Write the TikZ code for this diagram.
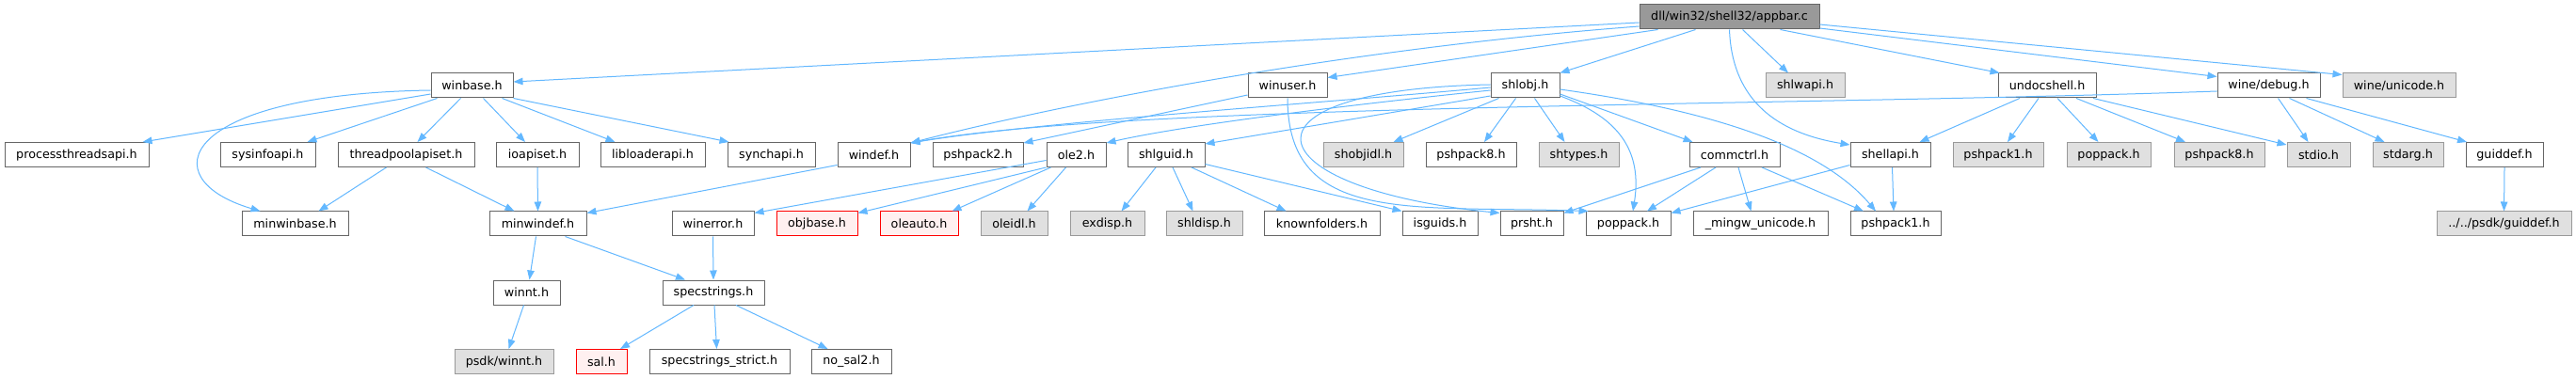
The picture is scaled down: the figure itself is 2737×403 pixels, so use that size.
\documentclass[tikz,border=0pt]{standalone}
\usepackage{fontspec}
\setmainfont{DejaVu Sans}
\usetikzlibrary{arrows.meta}
\definecolor{edgecol}{HTML}{63B8FF}
\definecolor{nodeborder}{HTML}{666666}
\definecolor{extfill}{HTML}{E0E0E0}
\definecolor{extborder}{HTML}{999999}
\definecolor{rootfill}{HTML}{999999}
\definecolor{badfill}{HTML}{FFF0F0}
\definecolor{badborder}{HTML}{FF0000}
\newcommand{\nfs}{\fontsize{12.7}{15}\selectfont}
\begin{document}
\begin{tikzpicture}[x=1pt,y=1pt,
  nb/.style={draw=nodeborder, fill=white, line width=1pt, minimum height=26pt, inner sep=0pt, font=\nfs, anchor=center},
  ext/.style={nb, fill=extfill, draw=extborder},
  bad/.style={nb, fill=badfill, draw=badborder},
  rootnode/.style={nb, fill=rootfill},
  dep/.style={-{Triangle[length=10pt,width=7.5pt]}, draw=edgecol, line width=1pt}]
\useasboundingbox[fill=white] (0,0) rectangle (2737,-403);
% row 0
\node[rootnode, minimum width=191pt] (appbar) at (1837.5,-18) {dll/win32/shell32/appbar.c};
% row 1
\node[nb, minimum width=87pt] (winbase) at (501.5,-91) {winbase.h};
\node[nb, minimum width=84pt] (winuser) at (1368,-91) {winuser.h};
\node[nb, minimum width=73pt] (shlobj) at (1620.5,-91) {shlobj.h};
\node[ext, minimum width=84pt] (shlwapi) at (1918,-91) {shlwapi.h};
\node[nb, minimum width=104pt] (undocshell) at (2175,-91) {undocshell.h};
\node[nb, minimum width=109pt] (winedebug) at (2410.5,-91) {wine/debug.h};
\node[ext, minimum width=120pt] (wineunicode) at (2549,-91) {wine/unicode.h};
% row 2
\node[nb, minimum width=153pt] (processthreadsapi) at (81.5,-164.5) {processthreadsapi.h};
\node[nb, minimum width=101pt] (sysinfoapi) at (284.5,-164.5) {sysinfoapi.h};
\node[nb, minimum width=145pt] (threadpoolapiset) at (431.5,-164.5) {threadpoolapiset.h};
\node[nb, minimum width=88pt] (ioapiset) at (571,-164.5) {ioapiset.h};
\node[nb, minimum width=111pt] (libloaderapi) at (693.5,-164.5) {libloaderapi.h};
\node[nb, minimum width=93pt] (synchapi) at (819.5,-164.5) {synchapi.h};
\node[nb, minimum width=77pt] (windef) at (928.5,-164.5) {windef.h};
\node[nb, minimum width=96pt] (pshpack2) at (1039,-164.5) {pshpack2.h};
\node[nb, minimum width=63pt] (ole2) at (1143.5,-164.5) {ole2.h};
\node[nb, minimum width=82pt] (shlguid) at (1239,-164.5) {shlguid.h};
\node[ext, minimum width=85pt] (shobjidl) at (1448.5,-164.5) {shobjidl.h};
\node[nb, minimum width=96pt] (pshpack8) at (1563,-164.5) {pshpack8.h};
\node[ext, minimum width=85pt] (shtypes) at (1677.5,-164.5) {shtypes.h};
\node[nb, minimum width=96pt] (commctrl) at (1843,-164.5) {commctrl.h};
\node[nb, minimum width=85pt] (shellapi) at (2008.5,-164.5) {shellapi.h};
\node[ext, minimum width=96pt] (pshpackoneG) at (2123,-164.5) {pshpack1.h};
\node[ext, minimum width=89pt] (poppackG) at (2240.5,-164.5) {poppack.h};
\node[ext, minimum width=96pt] (pshpackeightG) at (2358,-164.5) {pshpack8.h};
\node[ext, minimum width=67pt] (stdio) at (2463.5,-164.5) {stdio.h};
\node[ext, minimum width=75pt] (stdarg) at (2558.5,-164.5) {stdarg.h};
\node[nb, minimum width=82pt] (guiddef) at (2661,-164.5) {guiddef.h};
% row 3
\node[nb, minimum width=113pt] (minwinbase) at (313.5,-238) {minwinbase.h};
\node[nb, minimum width=103pt] (minwindef) at (571.5,-238) {minwindef.h};
\node[nb, minimum width=87pt] (winerror) at (757.5,-238) {winerror.h};
\node[bad, minimum width=86pt] (objbase) at (868,-238) {objbase.h};
\node[bad, minimum width=83pt] (oleauto) at (976.5,-238) {oleauto.h};
\node[ext, minimum width=71pt] (oleidl) at (1077.5,-238) {oleidl.h};
\node[ext, minimum width=79pt] (exdisp) at (1176.5,-238) {exdisp.h};
\node[ext, minimum width=81pt] (shldisp) at (1279.5,-238) {shldisp.h};
\node[nb, minimum width=123pt] (knownfolders) at (1404.5,-238) {knownfolders.h};
\node[nb, minimum width=80pt] (isguids) at (1530,-238) {isguids.h};
\node[nb, minimum width=67pt] (prsht) at (1627.5,-238) {prsht.h};
\node[nb, minimum width=90pt] (poppack) at (1730,-238) {poppack.h};
\node[nb, minimum width=143pt] (mingw) at (1870.5,-238) {\_mingw\_unicode.h};
\node[nb, minimum width=96pt] (pshpackone) at (2014,-238) {pshpack1.h};
\node[ext, minimum width=143pt] (psdkguiddef) at (2660.5,-238) {../../psdk/guiddef.h};
% row 4
\node[nb, minimum width=71pt] (winnt) at (559.5,-311) {winnt.h};
\node[nb, minimum width=108pt] (specstrings) at (758,-311) {specstrings.h};
% row 5
\node[ext, minimum width=105pt] (psdkwinnt) at (535.5,-384.5) {psdk/winnt.h};
\node[bad, minimum width=54pt] (sal) at (639,-384.5) {sal.h};
\node[nb, minimum width=149pt] (specstrict) at (764.5,-384.5) {specstrings\_strict.h};
\node[nb, minimum width=85pt] (nosal) at (904.5,-384.5) {no\_sal2.h};

% edges from appbar.c
\draw[dep] ([yshift=-6pt]appbar.west) -- ([yshift=4pt]winbase.east);
\draw[dep] ([yshift=-10pt]appbar.west) .. controls (1450,-50) and (1150,-105) .. ([yshift=-1pt]windef.north east);
\draw[dep] ([xshift=-76pt]appbar.south) -- ([yshift=-5pt]winuser.north east);
\draw[dep] ([xshift=-36pt]appbar.south) -- (shlobj.north east);
\draw[dep] (appbar.south) .. controls (1840,-100) and (1880,-140) .. ([yshift=-3pt]shellapi.north west);
\draw[dep] ([xshift=14pt]appbar.south) -- ([xshift=-18pt]shlwapi.north);
\draw[dep] ([xshift=54pt]appbar.south) -- ([xshift=2pt]undocshell.north west);
\draw[dep] ([yshift=-12pt]appbar.east) -- ([yshift=-4pt]winedebug.north west);
\draw[dep] ([yshift=-8pt]appbar.east) -- ([yshift=-2pt]wineunicode.north west);
% winbase.h
\draw[dep] ([yshift=-9pt]winbase.west) -- ([xshift=70pt]processthreadsapi.north);
\draw[dep] ([yshift=-5pt]winbase.west) .. controls (190,-100) and (160,-190) .. ([xshift=-37pt]minwinbase.north);
\draw[dep] ([xshift=-37pt]winbase.south) -- ([xshift=42pt]sysinfoapi.north);
\draw[dep] ([xshift=-12pt]winbase.south) -- ([xshift=12pt]threadpoolapiset.north);
\draw[dep] ([xshift=12pt]winbase.south) -- ([xshift=-13pt]ioapiset.north);
\draw[dep] ([xshift=32pt]winbase.south) -- ([xshift=-40pt]libloaderapi.north);
\draw[dep] (winbase.south east) -- ([xshift=2pt]synchapi.north west);
% lower left part
\draw[dep] ([xshift=-21pt]threadpoolapiset.south) -- ([xshift=25pt]minwinbase.north);
\draw[dep] ([xshift=21pt]threadpoolapiset.south) -- ([xshift=-25pt]minwindef.north);
\draw[dep] (ioapiset.south) -- (minwindef.north);
\draw[dep] ([yshift=-11pt]windef.west) -- ([yshift=-2pt]minwindef.north east);
\draw[dep] ([xshift=-2pt]minwindef.south) -- ([xshift=3pt]winnt.north);
\draw[dep] ([xshift=29pt]minwindef.south) -- ([xshift=-30pt]specstrings.north);
\draw[dep] ([xshift=-3pt]winnt.south) -- ([xshift=5pt]psdkwinnt.north);
\draw[dep] ([xshift=-21pt]specstrings.south) -- ([xshift=20pt]sal.north);
\draw[dep] ([xshift=1pt]specstrings.south) -- ([xshift=-3pt]specstrict.north);
\draw[dep] ([xshift=24pt]specstrings.south) -- ([xshift=-25pt]nosal.north);
\draw[dep] (winerror.south) -- (specstrings.north);
% ole2.h
\draw[dep] ([yshift=-6pt]ole2.west) -- ([yshift=-2pt]winerror.north east);
\draw[dep] (ole2.south west) -- ([yshift=-2pt]objbase.north east);
\draw[dep] ([xshift=-27pt]ole2.south) -- ([xshift=35pt]oleauto.north);
\draw[dep] ([xshift=-11pt]ole2.south) -- ([xshift=14pt]oleidl.north);
% shlguid.h
\draw[dep] ([xshift=-11pt]shlguid.south) -- ([xshift=15pt]exdisp.north);
\draw[dep] ([xshift=7pt]shlguid.south) -- ([xshift=-12pt]shldisp.north);
\draw[dep] ([xshift=27pt]shlguid.south) -- ([xshift=-38pt]knownfolders.north);
\draw[dep] ([yshift=-10pt]shlguid.east) -- (isguids.north west);
% winuser.h
\draw[dep] ([yshift=-10pt]winuser.west) -- ([yshift=-1pt]pshpack2.north east);
\draw[dep] (winuser.south) .. controls (1368,-240) and (1500,-218) .. ([xshift=3pt]poppack.north west);
% shlobj.h
\draw[dep] ([yshift=-2pt]shlobj.west) .. controls (1400,-110) and (1100,-130) .. ([yshift=-1pt]windef.north east);
\draw[dep] ([yshift=-5pt]shlobj.west) .. controls (1400,-115) and (1250,-135) .. ([yshift=-1pt]ole2.north east);
\draw[dep] ([yshift=-11pt]shlobj.west) -- ([yshift=-2pt]shlguid.north east);
\draw[dep] ([yshift=1pt]shlobj.west) .. controls (1300,-95) and (1330,-200) .. ([yshift=-2pt]prsht.north west);
\draw[dep] ([xshift=9pt]shlobj.south west) -- ([xshift=-11pt]shobjidl.north east);
\draw[dep] ([xshift=-10pt]shlobj.south) -- ([xshift=14pt]pshpack8.north);
\draw[dep] ([xshift=10pt]shlobj.south) -- ([xshift=-15pt]shtypes.north);
\draw[dep] ([yshift=-11pt]shlobj.east) .. controls (1720,-125) and (1745,-160) .. ([xshift=5pt]poppack.north);
\draw[dep] ([yshift=-9pt]shlobj.east) -- ([xshift=4pt]commctrl.north west);
\draw[dep] ([yshift=-4pt]shlobj.east) .. controls (1800,-115) and (1930,-150) .. ([xshift=-21pt]pshpackone.north);
% wine/debug.h
\draw[dep] ([yshift=-6pt]winedebug.west) .. controls (1900,-113) and (1200,-110) .. ([yshift=-1pt]windef.north east);
\draw[dep] ([xshift=10pt]winedebug.south) -- ([xshift=-11pt]stdio.north);
\draw[dep] ([xshift=22pt]winedebug.south) -- ([xshift=-25pt]stdarg.north);
\draw[dep] ([xshift=40pt]winedebug.south) -- ([xshift=-40pt]guiddef.north);
\draw[dep] (guiddef.south) -- (psdkguiddef.north);
% commctrl.h
\draw[dep] ([xshift=-36pt]commctrl.south) -- ([yshift=-2pt]prsht.north east);
\draw[dep] ([xshift=-20pt]commctrl.south) -- ([xshift=20pt]poppack.north);
\draw[dep] ([xshift=4pt]commctrl.south) -- ([xshift=-10pt]mingw.north);
\draw[dep] ([xshift=29pt]commctrl.south) -- ([xshift=-34pt]pshpackone.north);
% shellapi.h
\draw[dep] ([yshift=-11pt]shellapi.west) -- ([yshift=-2pt]poppack.north east);
\draw[dep] ([xshift=2pt]shellapi.south) -- ([xshift=-2pt]pshpackone.north);
% undocshell.h
\draw[dep] ([xshift=-29pt]undocshell.south) -- ([xshift=31pt]shellapi.north);
\draw[dep] ([xshift=-9pt]undocshell.south) -- ([xshift=10pt]pshpackoneG.north);
\draw[dep] ([xshift=11pt]undocshell.south) -- ([xshift=-11pt]poppackG.north);
\draw[dep] ([xshift=31pt]undocshell.south) -- ([xshift=-36pt]pshpackeightG.north);
\draw[dep] ([xshift=49pt]undocshell.south) -- ([yshift=-3pt]stdio.north west);
\end{tikzpicture}
\end{document}
